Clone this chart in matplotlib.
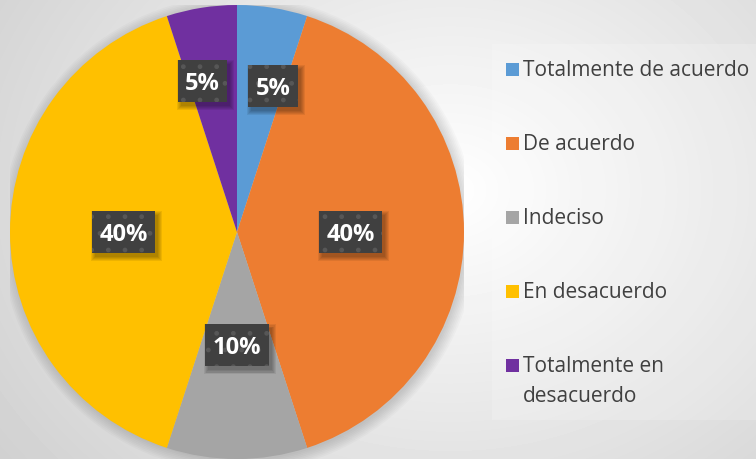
import numpy as np
import matplotlib.pyplot as plt
from matplotlib.patches import Rectangle, Circle

# ---- data ----
categorias = [
    "Totalmente de acuerdo",
    "De acuerdo",
    "Indeciso",
    "En desacuerdo",
    "Totalmente en\ndesacuerdo",
]
porcentajes = [5, 40, 10, 40, 5]
colores = ["#5B9BD5", "#ED7D31", "#A5A5A5", "#FFC000", "#7030A0"]

# where each percentage box sits (fraction of radius, angle nudge in deg)
label_r = [0.663, 0.50, 0.50, 0.50, 0.682]
label_dang = [-4.9, 0, 0, 0, 3.9]

W, H = 756, 459
fig = plt.figure(figsize=(W / 100, H / 100), dpi=100)

# ---- radial gradient background ----
bg = fig.add_axes([0, 0, 1, 1])
yy, xx = np.mgrid[0:H, 0:W]
d = np.sqrt(((xx - 450) / 520.0) ** 2 + ((yy - 190) / 420.0) ** 2)
shade = 1.0 - 0.17 * np.clip(d, 0, 1.2)
bg.imshow(shade, cmap="gray", vmin=0, vmax=1, aspect="auto",
          extent=[0, W, H, 0])
bg.set_xlim(0, W)
bg.set_ylim(H, 0)
bg.axis("off")

# legend panel (slightly lighter box)
bg.add_patch(Rectangle((492, 44), 264, 376, facecolor="white",
                       alpha=0.18, edgecolor="none"))

# ---- pie ----
cx, cy, R = 237, 232, 227
ax = fig.add_axes([(cx - R) / W, (H - cy - R) / H, 2 * R / W, 2 * R / H])

# soft shadow behind the pie
for k in range(8):
    ax.add_patch(Circle((0.008, -0.008), 1.0 + 0.007 * k,
                        facecolor="black", alpha=0.018, edgecolor="none",
                        zorder=0))

wedges, _ = ax.pie(porcentajes, colors=colores, startangle=90,
                   counterclock=False, radius=1.0,
                   wedgeprops=dict(linewidth=0))
for w in wedges:
    w.set_zorder(1)

ax.set_xlim(-1, 1)
ax.set_ylim(-1, 1)
ax.set_aspect("equal")
ax.axis("off")

# data labels: white bold text on dark dotted box with soft shadow
textos = []
for w, p, r, da in zip(wedges, porcentajes, label_r, label_dang):
    ang = np.deg2rad((w.theta1 + w.theta2) / 2 + da)
    x, y = r * np.cos(ang), r * np.sin(ang)
    t = ax.text(x, y, f"{p}%", ha="center", va="center_baseline",
                fontsize=17, fontweight="bold", color="white",
                family="Open Sans", zorder=6)
    textos.append((t, x, y))

fig.canvas.draw()
px = 1.0 / R  # one pixel in pie data units
for t, x, y in textos:
    ext = t.get_window_extent()
    bw = (ext.width + 15) * px
    bh = 42 * px
    for k in range(5):
        ax.add_patch(Rectangle((x - bw / 2 + (3 - k) * px, y - bh / 2 - (4 + k) * px),
                               bw + 2 * k * px, bh + 2 * k * px,
                               facecolor="black", alpha=0.07,
                               edgecolor="none", zorder=3))
    ax.add_patch(Rectangle((x - bw / 2, y - bh / 2), bw, bh,
                           facecolor="#404040", edgecolor="#575757",
                           linewidth=0, hatch=".", zorder=4))

# ---- legend ----
y0, step = 69.5, 74.1
for i, (lab, col) in enumerate(zip(categorias, colores)):
    y = y0 + i * step
    bg.add_patch(Rectangle((506, y - 6.5), 13, 13, facecolor=col,
                           edgecolor="none"))
    bg.text(523, y - 10, lab, ha="left", va="top", fontsize=15,
            color="#404040", family="Open Sans", linespacing=1.6)

fig.savefig("out.png", dpi=100)
